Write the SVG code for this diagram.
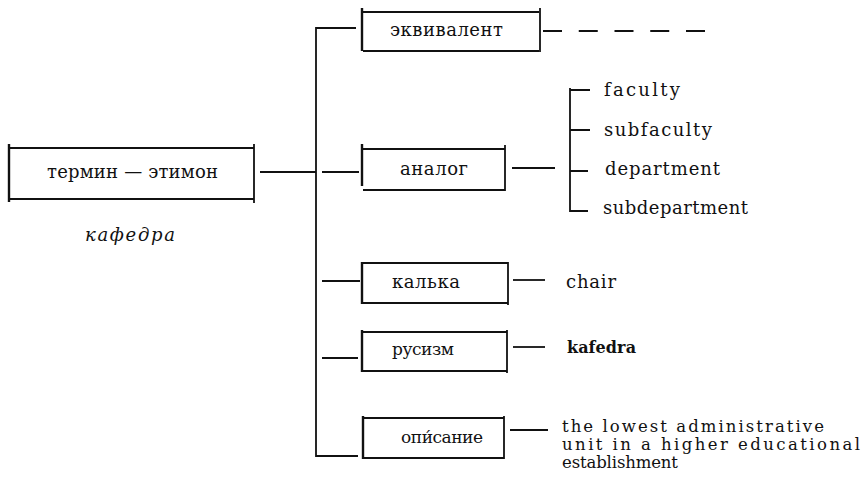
<svg xmlns="http://www.w3.org/2000/svg" width="866" height="477" viewBox="0 0 866 477">
<style>
  .ln { stroke:#111; stroke-width:1.8; fill:none; stroke-linecap:butt; }
  .bar { stroke:#111; stroke-width:2.4; fill:none; }
  .t { font-family:"DejaVu Serif","Liberation Serif",serif; font-size:18px; fill:#111; }
  .s { font-family:"DejaVu Serif","Liberation Serif",serif; font-size:17px; fill:#111; }
  .d { font-family:"DejaVu Serif","Liberation Serif",serif; font-size:16.5px; fill:#111; }
  .it { font-family:"DejaVu Serif","Liberation Serif",serif; font-size:18px; font-style:italic; fill:#111; }
  .b { font-family:"DejaVu Serif","Liberation Serif",serif; font-size:16px; font-weight:bold; fill:#111; }
</style>
<rect width="866" height="477" fill="#fff"/>

<g id="termin">
  <path class="bar" d="M9,144 V202"/>
  <path class="ln" d="M10,148 H254 M10,199 H254"/>
  <path class="ln" d="M254,144 V203"/>
  <text class="t" x="47" y="178" textLength="171" lengthAdjust="spacing">термин — этимон</text>
  <text class="it" x="85" y="241" textLength="90" lengthAdjust="spacing">кафедра</text>
</g>

<g id="ekvivalent">
  <path class="bar" d="M362,8 V51"/>
  <path class="ln" d="M363,12 H539 M363,51 H539"/>
  <path class="ln" d="M540,8 V52"/>
  <text class="t" x="390" y="36" textLength="113" lengthAdjust="spacing">эквивалент</text>
</g>

<g id="analog">
  <path class="bar" d="M362,144 V186"/>
  <path class="ln" d="M363,149 H505 M363,190 H505"/>
  <path class="ln" d="M505,145 V191"/>
  <text class="t" x="400" y="175" textLength="68" lengthAdjust="spacing">аналог</text>
</g>

<g id="kalka">
  <path class="bar" d="M362,262 V304"/>
  <path class="ln" d="M363,263 H508 M363,303 H508"/>
  <path class="ln" d="M508,262 V305"/>
  <text class="t" x="392" y="288" textLength="68" lengthAdjust="spacing">калька</text>
</g>

<g id="rusizm">
  <path class="bar" d="M362,330 V372"/>
  <path class="ln" d="M363,332 H507 M363,371 H507"/>
  <path class="ln" d="M507,330 V373"/>
  <text class="s" x="392" y="355" textLength="62" lengthAdjust="spacing">русизм</text>
</g>

<g id="opisanie">
  <path class="bar" d="M363,416 V459"/>
  <path class="ln" d="M364,418 H504 M364,458 H504"/>
  <path class="ln" d="M504,416 V459"/>
  <text class="s" x="401" y="443" textLength="82" lengthAdjust="spacing">опи́сание</text>
</g>

<g id="analog-list">
  <text class="t" x="604" y="96" textLength="76" lengthAdjust="spacing">faculty</text>
  <text class="t" x="604" y="136" textLength="108" lengthAdjust="spacing">subfaculty</text>
  <text class="t" x="605" y="175" textLength="115" lengthAdjust="spacing">department</text>
  <text class="t" x="603" y="214" textLength="145" lengthAdjust="spacing">subdepartment</text>
</g>

<g id="chair"><text class="t" x="566" y="288" textLength="50" lengthAdjust="spacing">chair</text></g>
<g id="kafedra"><text class="b" x="567" y="353" textLength="69" lengthAdjust="spacing">kafedra</text></g>
<g id="description">
  <text class="d" x="562" y="432" textLength="262" lengthAdjust="spacing">the lowest administrative</text>
  <text class="d" x="562" y="450" textLength="298" lengthAdjust="spacing">unit in a higher educational</text>
  <text class="d" x="562" y="468" textLength="116" lengthAdjust="spacing">establishment</text>
</g>

<g id="connectors">
  <path class="ln" d="M260,172 H316"/>
  <path class="ln" d="M356,28 H316 V456 H358"/>
  <path class="ln" d="M322,172 H359"/>
  <path class="ln" d="M322,281 H360"/>
  <path class="ln" d="M322,358 H358"/>
  <path class="ln" d="M543,31 H705" stroke-dasharray="19 16.75"/>
  <path class="ln" d="M512,168 H555"/>
  <path class="ln" d="M570,88 V211 H588 M570,90 H590 M570,130 H590 M570,171 H588"/>
  <path class="ln" d="M513,280 H545"/>
  <path class="ln" d="M513,347 H545"/>
  <path class="ln" d="M510,430 H548"/>
</g>
</svg>
